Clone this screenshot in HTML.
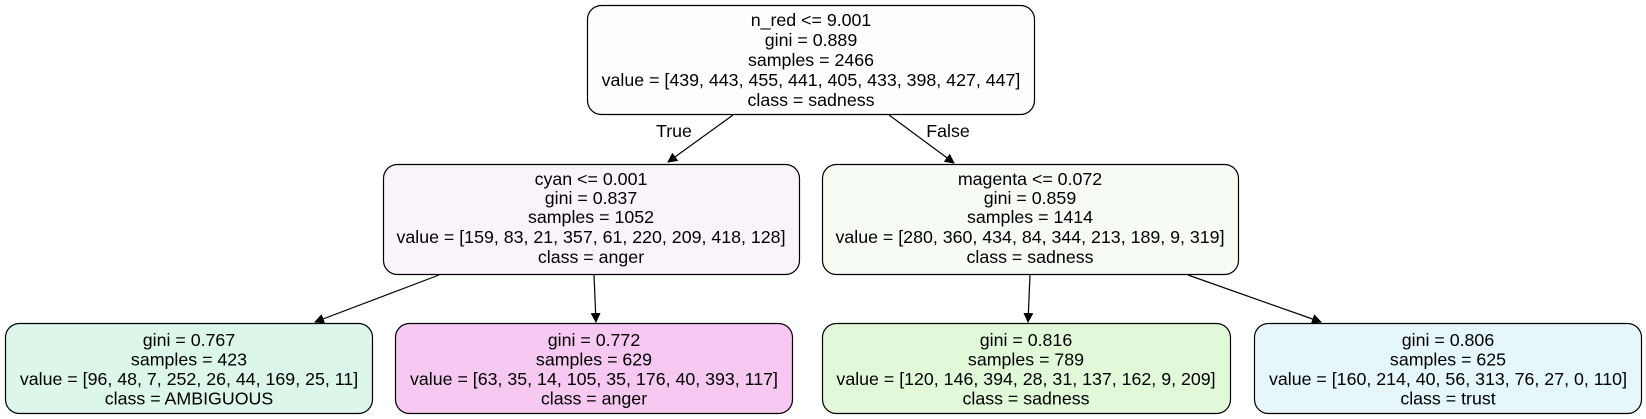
<!DOCTYPE html>
<html><head><meta charset="utf-8"><style>
html,body{margin:0;padding:0;background:#fff;}
svg{display:block;font-family:"Liberation Sans",Arial,sans-serif;}
text{font-size:17.8px;fill:#000;text-anchor:middle;}
</style></head><body>
<svg width="1646" height="419" viewBox="0 0 1646 419">
<defs><marker id="ah" markerWidth="10" markerHeight="10" refX="9" refY="5" orient="auto" markerUnits="userSpaceOnUse"><path d="M0,0 L10,5 L0,10 z" fill="#000"/></marker></defs>
<g stroke="#000" stroke-width="1.2">
<line x1="733" y1="115" x2="668" y2="162" marker-end="url(#ah)"/>
<line x1="889" y1="115" x2="954" y2="163" marker-end="url(#ah)"/>
<line x1="439" y1="275" x2="315" y2="322" marker-end="url(#ah)"/>
<line x1="594" y1="275" x2="596" y2="322" marker-end="url(#ah)"/>
<line x1="1030" y1="275" x2="1028" y2="322" marker-end="url(#ah)"/>
<line x1="1188" y1="275" x2="1321" y2="322" marker-end="url(#ah)"/>
</g>
<text x="674" y="137">True</text>
<text x="948" y="137">False</text>

<g>
<rect x="587.5" y="5.5" width="447" height="109" rx="14" fill="#fefefe" stroke="#000" stroke-width="1.2"/>
<text x="811" y="26">n_red &lt;= 9.001</text><text x="811" y="46">gini = 0.889</text><text x="811" y="66">samples = 2466</text>
<text x="811" y="86">value = [439, 443, 455, 441, 405, 433, 398, 427, 447]</text><text x="811" y="106">class = sadness</text>
</g>
<g>
<rect x="383.5" y="164.5" width="416" height="110" rx="14" fill="#fbf3fb" stroke="#000" stroke-width="1.2"/>
<text x="591" y="185">cyan &lt;= 0.001</text><text x="591" y="204">gini = 0.837</text><text x="591" y="223">samples = 1052</text>
<text x="591" y="243">value = [159, 83, 21, 357, 61, 220, 209, 418, 128]</text><text x="591" y="263">class = anger</text>
</g>
<g>
<rect x="822.5" y="164.5" width="416" height="110" rx="14" fill="#f6fbf4" stroke="#000" stroke-width="1.2"/>
<text x="1030" y="185">magenta &lt;= 0.072</text><text x="1030" y="204">gini = 0.859</text><text x="1030" y="223">samples = 1414</text>
<text x="1030" y="243">value = [280, 360, 434, 84, 344, 213, 189, 9, 319]</text><text x="1030" y="263">class = sadness</text>
</g>
<g>
<rect x="5.5" y="323.5" width="367" height="90" rx="14" fill="#dcf7e9" stroke="#000" stroke-width="1.2"/>
<text x="189" y="346">gini = 0.767</text><text x="189" y="365.5">samples = 423</text>
<text x="189" y="385">value = [96, 48, 7, 252, 26, 44, 169, 25, 11]</text><text x="189" y="404.5">class = AMBIGUOUS</text>
</g>
<g>
<rect x="395.5" y="323.5" width="397" height="90" rx="14" fill="#f6c8f2" stroke="#000" stroke-width="1.2"/>
<text x="594" y="346">gini = 0.772</text><text x="594" y="365.5">samples = 629</text>
<text x="594" y="385">value = [63, 35, 14, 105, 35, 176, 40, 393, 117]</text><text x="594" y="404.5">class = anger</text>
</g>
<g>
<rect x="822.5" y="323.5" width="408" height="90" rx="14" fill="#e2f9d9" stroke="#000" stroke-width="1.2"/>
<text x="1026" y="346">gini = 0.816</text><text x="1026" y="365.5">samples = 789</text>
<text x="1026" y="385">value = [120, 146, 394, 28, 31, 137, 162, 9, 209]</text><text x="1026" y="404.5">class = sadness</text>
</g>
<g>
<rect x="1254.5" y="323.5" width="387" height="90" rx="14" fill="#e5f7fa" stroke="#000" stroke-width="1.2"/>
<text x="1448" y="346">gini = 0.806</text><text x="1448" y="365.5">samples = 625</text>
<text x="1448" y="385">value = [160, 214, 40, 56, 313, 76, 27, 0, 110]</text><text x="1448" y="404.5">class = trust</text>
</g>
</svg>
</body></html>
